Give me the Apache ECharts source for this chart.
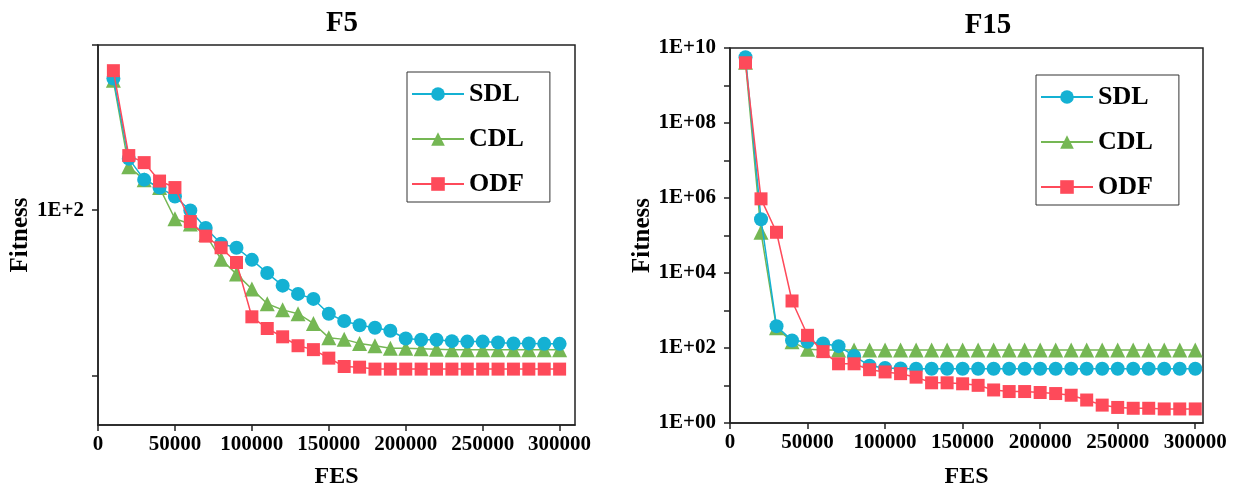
<!DOCTYPE html>
<html>
<head>
<meta charset="utf-8">
<script src="https://cdn.jsdelivr.net/npm/echarts@6/dist/echarts.min.js"></script>
<style>
html,body{margin:0;padding:0;background:#fff;}
#chart{width:1235px;height:494px;}
</style>
</head>
<body>
<div id="chart"></div>
<script>
// ---- data ----
const fes = [10000, 20000, 30000, 40000, 50000, 60000, 70000, 80000, 90000, 100000,
  110000, 120000, 130000, 140000, 150000, 160000, 170000, 180000, 190000, 200000,
  210000, 220000, 230000, 240000, 250000, 260000, 270000, 280000, 290000, 300000];
const seriesNames = ['SDL', 'CDL', 'ODF'];

// F5
const f5SDL = [626, 205, 153, 137, 121, 99.6, 78, 62.6, 59.2, 50, 41.6, 34.9, 31.1, 29.0, 23.6,
  21.3, 20.1, 19.4, 18.6, 16.7, 16.4, 16.4, 16.1, 16.0, 16.0, 15.8, 15.6, 15.6, 15.5, 15.5];
const f5CDL = [611, 183, 153, 137, 88.7, 82.4, 71.1, 50.4, 41.0, 33.3, 27.1, 24.9, 23.6, 20.6, 16.9,
  16.5, 15.6, 15.1, 14.6, 14.6, 14.5, 14.4, 14.3, 14.3, 14.3, 14.3, 14.3, 14.3, 14.3, 14.3];
const f5ODF = [699, 214, 194, 150, 137, 85.3, 69.6, 59.2, 48.2, 22.6, 19.2, 17.1, 15.1, 14.3, 12.7,
  11.3, 11.2, 10.9, 10.9, 10.9, 10.9, 10.9, 10.9, 10.9, 10.9, 10.9, 10.9, 10.9, 10.9, 10.9];

// F15
const f15SDL = [5.7e9, 2.7e5, 383, 158, 146, 132, 112, 61.4, 33.6, 29.2, 28.3, 28.0, 28.0, 28.0, 28.0,
  28.0, 28.0, 28.0, 28.0, 28.0, 28.0, 28.0, 28.0, 28.0, 28.0, 28.0, 28.0, 28.0, 28.0, 28.0];
const f15CDL = [4.2e9, 1.22e5, 346, 146, 92, 88, 88, 88, 88, 88, 88, 88, 88, 88, 88,
  88, 88, 88, 88, 88, 88, 88, 88, 88, 88, 88, 88, 88, 88, 88];
const f15ODF = [4.05e9, 9.5e5, 1.22e5, 1795, 218, 80, 37.9, 37.9, 26.4, 23.0, 20.7, 16.7, 11.8, 11.8, 11.1,
  10.1, 7.6, 6.9, 6.9, 6.5, 6.1, 5.5, 4.1, 3.0, 2.6, 2.47, 2.47, 2.37, 2.37, 2.37];

const xTicks = [0, 50000, 100000, 150000, 200000, 250000, 300000];
const f5YTicks = [10, 100, 1000];
const f5YLabels = [100];
const f15YTicks = [1, 10, 100, 1e3, 1e4, 1e5, 1e6, 1e7, 1e8, 1e9, 1e10];
const f15YLabels = [1, 100, 1e4, 1e6, 1e8, 1e10];

// ---- styling ----
const FONT = '"Liberation Serif", "Times New Roman", serif';
const colors = {SDL: '#14B1D3', CDL: '#75B754', ODF: '#FE4A5A'};
const symbols = {SDL: 'circle', CDL: 'triangle', ODF: 'rect'};
const symSize = {SDL: 14, CDL: 15, ODF: 13};
const zs = {SDL: 3, CDL: 2, ODF: 4};
const AX = '#222';

function pairs(vals) { return vals.map((v, i) => [fes[i], v]); }

function fmtExp(v, twoDigit) {
  const e = Math.round(Math.log10(v));
  const s = twoDigit ? String(e).padStart(2, '0') : String(e);
  return '1E+' + s;
}

function xAxis(gi, max, gap) {
  return {
    type: 'value', gridIndex: gi, min: 0, max: max,
    name: 'FES', nameLocation: 'middle', nameGap: gap,
    nameTextStyle: {fontFamily: FONT, fontWeight: 'bold', fontSize: 24, color: '#000'},
    axisLine: {show: true, lineStyle: {color: AX, width: 1.5}},
    axisTick: {show: true, inside: false, length: 6, lineStyle: {color: AX, width: 1.5}, customValues: xTicks},
    axisLabel: {show: true, margin: 9, fontFamily: FONT, fontWeight: 'bold', fontSize: 21, color: '#000',
      customValues: xTicks, formatter: v => String(Math.round(v))},
    splitLine: {show: false}
  };
}

function yAxis(gi, min, max, ticks, labels, twoDigit, gap) {
  return {
    type: 'log', logBase: 10, gridIndex: gi, min: min, max: max,
    name: 'Fitness', nameLocation: 'middle', nameGap: gap, nameRotate: 90,
    nameTextStyle: {fontFamily: FONT, fontWeight: 'bold', fontSize: 25, color: '#000'},
    axisLine: {show: true, lineStyle: {color: AX, width: 1.5}},
    axisTick: {show: true, inside: false, length: 6, lineStyle: {color: AX, width: 1.5}, customValues: ticks},
    axisLabel: {show: true, margin: 14, fontFamily: FONT, fontWeight: 'bold', fontSize: 21, color: '#000',
      customValues: labels, formatter: v => fmtExp(v, twoDigit)},
    splitLine: {show: false}
  };
}

function mkSeries(name, vals, gi) {
  return {
    name: name, type: 'line', xAxisIndex: gi, yAxisIndex: gi,
    data: pairs(vals), symbol: symbols[name], symbolSize: symSize[name],
    z: zs[name], showAllSymbol: true,
    itemStyle: {color: colors[name]},
    lineStyle: {color: colors[name], width: 1.5},
    emphasis: {disabled: true}, animation: false
  };
}

function legend(left, top) {
  return {
    data: seriesNames, orient: 'vertical', left: left, top: top,
    itemWidth: 52, itemHeight: 17, itemGap: 19,
    padding: [9, 26, 5, 4],
    borderColor: '#333', borderWidth: 1,
    textStyle: {fontFamily: FONT, fontWeight: 'bold', fontSize: 26, color: '#000'},
    selectedMode: false
  };
}

const chart = echarts.init(document.getElementById('chart'), null, {renderer: 'canvas'});
chart.setOption({
  animation: false,
  backgroundColor: '#fff',
  title: [
    {text: 'F5', left: 337, top: 4, textAlign: 'center',
      textStyle: {fontFamily: FONT, fontWeight: 'bold', fontSize: 29, color: '#000'}},
    {text: 'F15', left: 983, top: 6, textAlign: 'center',
      textStyle: {fontFamily: FONT, fontWeight: 'bold', fontSize: 29, color: '#000'}}
  ],
  legend: [legend(407, 72), legend(1036, 75)],
  grid: [
    {left: 98, top: 45, width: 477, height: 385, show: true, borderColor: AX, borderWidth: 1.5, backgroundColor: 'transparent'},
    {left: 730, top: 48, width: 473, height: 383, show: true, borderColor: AX, borderWidth: 1.5, backgroundColor: 'transparent'}
  ],
  xAxis: [xAxis(0, 310000, 40), xAxis(1, 305000, 42)],
  yAxis: [
    yAxis(0, 5, 1000, f5YTicks, f5YLabels, false, 63),
    yAxis(1, 1, 1e10, f15YTicks, f15YLabels, true, 75)
  ],
  series: [
    mkSeries('SDL', f5SDL, 0), mkSeries('CDL', f5CDL, 0), mkSeries('ODF', f5ODF, 0),
    mkSeries('SDL', f15SDL, 1), mkSeries('CDL', f15CDL, 1), mkSeries('ODF', f15ODF, 1)
  ]
});
</script>
</body>
</html>
